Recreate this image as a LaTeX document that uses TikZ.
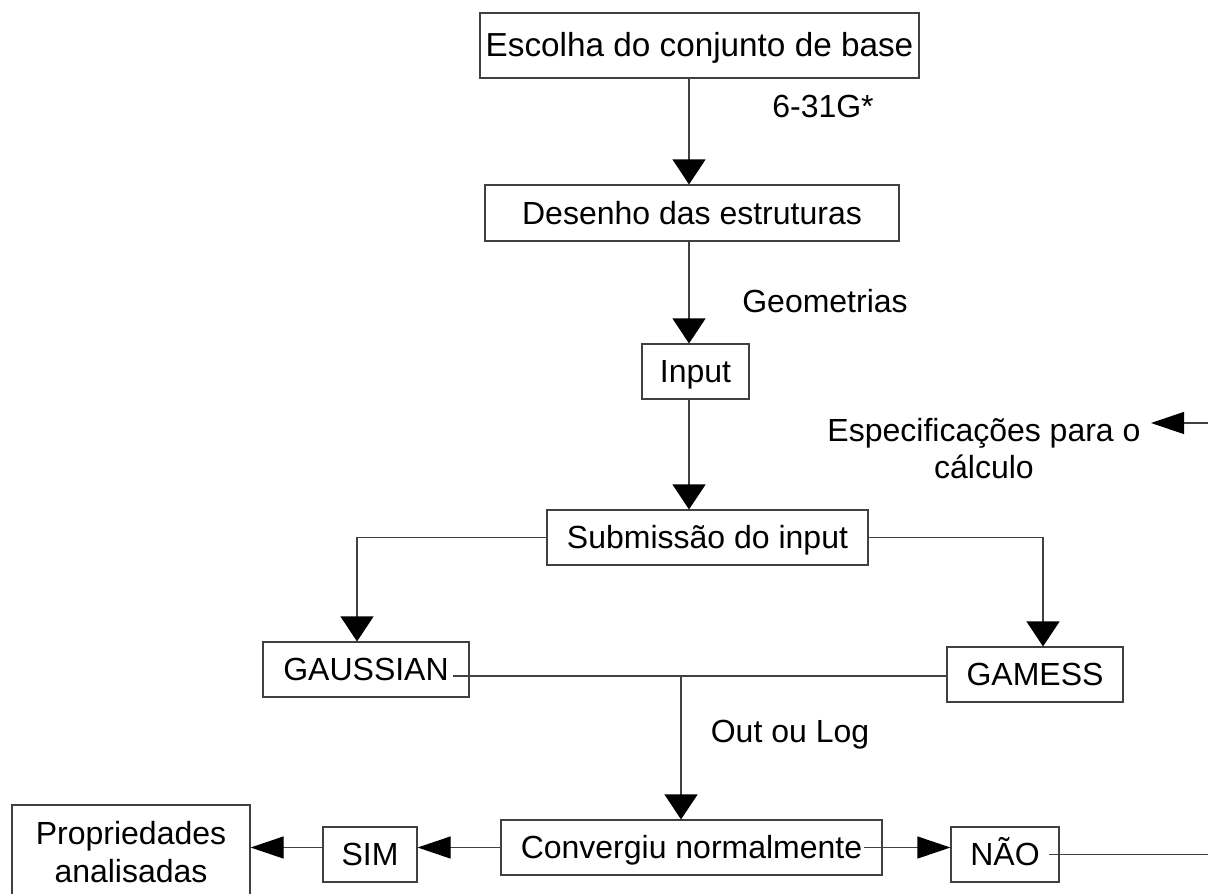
\documentclass[tikz,border=0pt]{standalone}
\usepackage{fontspec}
\setmainfont{Liberation Sans}
\usetikzlibrary{arrows.meta,calc}
\begin{document}
\begin{tikzpicture}[x=1pt,y=-1pt,
  txt/.style={font=\fontsize{32}{38}\selectfont, text height=22.9pt, text depth=0pt, inner sep=0pt},
  box/.style={txt, draw=black!75, line width=1.2pt, rectangle},
  ln/.style={draw=black!75, line width=1.2pt},
  vtip/.style={-{Triangle[length=25pt,width=33pt,color=black]}},
  htip/.style={-{Triangle[length=33pt,width=22pt,color=black]}}]
\fill[white] (0,0) rectangle (1208,894);
\useasboundingbox (0,0) rectangle (1208,894);

% boxes
\node[box, minimum width=439pt, minimum height=65pt, font=\fontsize{33.3}{38}\selectfont] (esc) at (699.5,45.5) {Escolha do conjunto de base};
\node[box, minimum width=414pt, minimum height=56pt] (des) at (692,213) {Desenho das estruturas};
\node[box, minimum width=107pt, minimum height=55pt] (inp) at (695.5,371.5) {Input};
\node[box, minimum width=321pt, minimum height=55pt] (sub) at (707.5,537.5) {Submissão do input};
\node[box, minimum width=206pt, minimum height=55pt] (gau) at (366,669.5) {GAUSSIAN};
\node[box, minimum width=176pt, minimum height=55pt] (gam) at (1035,674.5) {GAMESS};
\node[box, minimum width=381pt, minimum height=55pt] (con) at (691.5,847.5) {Convergiu normalmente};
\node[box, minimum width=94pt, minimum height=55pt] (sim) at (370,854.5) {SIM};
\node[box, minimum width=108pt, minimum height=55pt] (nao) at (1005,854.5) {NÃO};
\node[draw=black!75, line width=1.2pt, align=center, inner sep=0pt,
      font=\fontsize{32}{38}\selectfont, minimum width=238pt, minimum height=94pt] (prop) at (131,852) {Propriedades\\analisadas};

% labels
\node[txt] (l631) at (823,106) {6-31G*};
\node[txt] (lgeo) at (825,301) {Geometrias};
\node[txt] (lout) at (790,731) {Out ou Log};
\node[align=center, inner sep=0pt, font=\fontsize{32}{37}\selectfont] (lesp) at (984,449) {Especificações para o\\cálculo};

% connectors
\coordinate (colx) at (689,0);
\draw[ln,vtip] (esc.south -| colx) -- (des.north -| colx);
\draw[ln,vtip] (des.south -| colx) -- (inp.north -| colx);
\draw[ln,vtip] (inp.south -| colx) -- (sub.north -| colx);

\coordinate (espR) at (1208,423);
\coordinate (espT) at (1151,423);
\draw[ln,htip] (espR) -- (espT);

\coordinate (lx) at (357,0);
\coordinate (rx) at (1043,0);
\draw[ln,vtip] (sub.west) -| (lx |- gau.north);
\draw[ln,vtip] (sub.east) -| (rx |- gam.north);

\coordinate (j) at (681,676);
\draw[ln] ([shift={(-17,6.5)}]gau.east) -- (gam.west |- j);
\draw[ln,vtip] (j) -- (con.north -| j);

\draw[ln,htip] (con.west) -- (sim.east |- con.west);
\draw[ln,htip] (sim.west |- con.west) -- (prop.east |- con.west);
\draw[ln,htip] ([xshift=-19pt]con.east) -- (nao.west |- con.east);
\coordinate (naoR) at (1208,856);
\draw[ln] ([xshift=-11pt]nao.east) -- (naoR |- nao.east);
\end{tikzpicture}
\end{document}
